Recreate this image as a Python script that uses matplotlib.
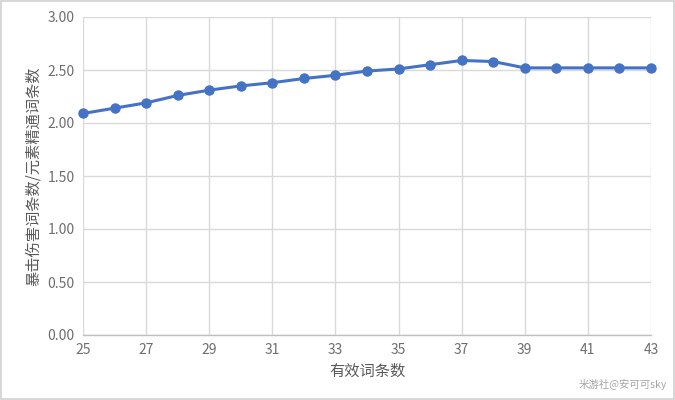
import matplotlib

matplotlib.use("Agg")
import matplotlib.pyplot as plt
from matplotlib.patches import Rectangle

plt.rcParams["font.family"] = ["Noto Sans CJK SC", "DejaVu Sans"]

# 有效词条数 -> 暴击伤害词条数/元素精通词条数
valid_counts = list(range(25, 44))
ratio = [2.09, 2.14, 2.19, 2.26, 2.31, 2.35, 2.38, 2.42, 2.45, 2.49,
         2.51, 2.55, 2.59, 2.58, 2.52, 2.52, 2.52, 2.52, 2.52]
x_ticks = list(range(25, 44, 2))
y_ticks = [0.0, 0.5, 1.0, 1.5, 2.0, 2.5, 3.0]

BLUE = "#4472C4"
GRID = "#d9d9d9"
TEXT = "#6e6e6e"

fig = plt.figure(figsize=(6.75, 4.0), dpi=100)
fig.patch.set_facecolor("white")
fig.patches.append(Rectangle((0.002, 0.003), 0.996, 0.994, transform=fig.transFigure,
                             fill=False, edgecolor="#d0d0d0", linewidth=1.2))

ax = fig.add_axes((83 / 675, 1 - 335 / 400, (651 - 83) / 675, (335 - 17) / 400))
ax.plot(valid_counts, ratio, color=BLUE, linewidth=2.2, marker="o",
        markersize=6.5, zorder=3, clip_on=False)

ax.set_xlim(25, 43)
ax.set_ylim(0, 3)
ax.set_xticks(x_ticks)
ax.set_yticks(y_ticks)
ax.set_yticklabels([f"{v:.2f}" for v in y_ticks])
ax.grid(True, color=GRID, linewidth=1.0)
ax.set_axisbelow(True)
for name, sp in ax.spines.items():
    sp.set_visible(name == "bottom")
sp = ax.spines["bottom"]
sp.set_color("#bfbfbf")
sp.set_linewidth(1.0)
ax.tick_params(length=0, colors=TEXT, labelsize=10, pad=6)

ax.set_xlabel("有效词条数", color="#595959", fontsize=11, labelpad=4)
ax.set_ylabel("暴击伤害词条数/元素精通词条数", color="#595959", fontsize=11, labelpad=4)

fig.text(0.988, 0.04, "米游社@安可可sky", ha="right", va="center",
         color="#a6a6a6", fontsize=7.5)

fig.savefig("out.png", dpi=100, facecolor="white")
